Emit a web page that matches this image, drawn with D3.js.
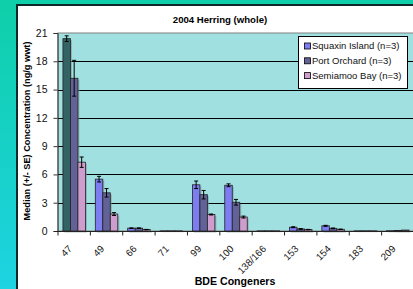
<!DOCTYPE html>
<html><head><meta charset="utf-8">
<script src="https://cdn.jsdelivr.net/npm/d3@7"></script>
<style>
html,body{margin:0;padding:0;}
body{width:413px;height:289px;overflow:hidden;background:linear-gradient(#0ecfa9,#1ed3e2);}
svg{display:block;font-family:"Liberation Sans",Arial,sans-serif;}
</style></head><body>
<svg id="c" width="413" height="289"></svg>
<script>
const categories = ["47","49","66","71","99","100","138/166","153","154","183","209"];
const seriesNames = ["Squaxin Island (n=3)","Port Orchard (n=3)","Semiamoo Bay (n=3)"];
const squaxin   = [20.4, 5.5, 0.3, 0.02, 4.9, 4.85, 0.02, 0.4, 0.55, 0.02, 0.03];
const portOrch  = [16.2, 4.05, 0.3, 0.02, 3.85, 3.05, 0.02, 0.22, 0.28, 0.02, 0.05];
const semiamoo  = [7.3, 1.8, 0.15, 0.02, 1.75, 1.48, 0.02, 0.15, 0.18, 0.02, 0.1];
const squaxinSE = [0.3, 0.3, 0.03, 0, 0.4, 0.15, 0, 0.05, 0.05, 0, 0];
const portSE    = [1.9, 0.45, 0.03, 0, 0.45, 0.3, 0, 0.04, 0.04, 0, 0];
const semiSE    = [0.55, 0.15, 0.02, 0, 0.05, 0.1, 0, 0.02, 0.02, 0, 0];
const yTicks = [0,3,6,9,12,15,18,21];
const colors = ["#7d7df2","#626299","#cf9dcd"];
const highlightColor = "#336463";

(function(){
const svg = d3.select("#c");
svg.append("rect").attr("x",17).attr("y",5).attr("width",420).attr("height",300)
  .attr("fill","#fff").attr("stroke","#0d2a2a").attr("stroke-width",2);

const pL=58, pR=414, pT=33, pB=231;
const x = d3.scaleBand().domain(categories).range([pL,pR]).padding(0);
const xs = d3.scaleBand().domain(d3.range(3)).range([0,x.bandwidth()]).paddingInner(0).paddingOuter(0.66);
const y = d3.scaleLinear().domain([0,21]).range([pB,pT]);

svg.append("rect").attr("x",pL).attr("y",pT).attr("width",pR-pL).attr("height",pB-pT)
  .attr("fill","#a1e0e0").attr("stroke","#808080").attr("stroke-width",1);

svg.append("g").selectAll("line").data(yTicks.filter(d=>d>0 && d<21)).join("line")
  .attr("x1",pL).attr("x2",pR).attr("y1",d=>Math.round(y(d))+0.5).attr("y2",d=>Math.round(y(d))+0.5)
  .attr("stroke","#000").attr("stroke-width",1);

const vals=[squaxin,portOrch,semiamoo], ses=[squaxinSE,portSE,semiSE];
const data=[];
categories.forEach((c,i)=>{for(let s=0;s<3;s++)data.push({c,s,v:vals[s][i],e:ses[s][i]});});

const g=svg.append("g");
g.selectAll("rect.sh").data(data).join("rect").attr("class","sh")
  .attr("x",d=>x(d.c)+xs(d.s)+1.5).attr("y",d=>y(d.v)+1.5)
  .attr("width",xs.bandwidth()).attr("height",d=>y(0)-y(d.v))
  .attr("fill","#7a9a9a").attr("opacity",0.6);
g.selectAll("rect.bar").data(data).join("rect").attr("class","bar")
  .attr("x",d=>x(d.c)+xs(d.s)).attr("y",d=>y(d.v))
  .attr("width",xs.bandwidth()).attr("height",d=>y(0)-y(d.v))
  .attr("fill",d=>(d.c==="47"&&d.s===0)?highlightColor:colors[d.s])
  .attr("stroke","#222").attr("stroke-width",0.8);
const eb=data.filter(d=>d.e>0);
const cx=d=>x(d.c)+xs(d.s)+xs.bandwidth()/2;
g.selectAll("line.ev").data(eb).join("line").attr("class","ev")
  .attr("x1",cx).attr("x2",cx).attr("y1",d=>y(d.v+d.e)).attr("y2",d=>y(d.v-d.e))
  .attr("stroke","#000").attr("stroke-width",1);
g.selectAll("line.et").data(eb).join("line").attr("class","et")
  .attr("x1",d=>cx(d)-2).attr("x2",d=>cx(d)+2).attr("y1",d=>y(d.v+d.e)).attr("y2",d=>y(d.v+d.e))
  .attr("stroke","#000").attr("stroke-width",1);
g.selectAll("line.eb").data(eb).join("line").attr("class","eb")
  .attr("x1",d=>cx(d)-2).attr("x2",d=>cx(d)+2).attr("y1",d=>y(d.v-d.e)).attr("y2",d=>y(d.v-d.e))
  .attr("stroke","#000").attr("stroke-width",1);

const ya=svg.append("g").attr("transform",`translate(${pL-0.5},0)`)
  .call(d3.axisLeft(y).tickValues(yTicks).tickSize(4).tickPadding(6));
ya.select(".domain").attr("stroke","#333");
ya.selectAll(".tick line").attr("stroke","#333");
ya.selectAll("text").attr("font-size",10.5).attr("fill","#111").attr("font-family","Liberation Sans, Arial");

const xa=svg.append("g").attr("transform",`translate(0,${pB+0.5})`);
xa.append("line").attr("x1",pL-4).attr("x2",pR).attr("stroke","#222");
xa.selectAll("line.t").data(categories.concat(["_end"])).join("line").attr("class","t")
  .attr("x1",(d,i)=>pL+i*x.step()).attr("x2",(d,i)=>pL+i*x.step())
  .attr("y1",0).attr("y2",4).attr("stroke","#222");
svg.append("g").selectAll("text").data(categories).join("text")
  .attr("transform",d=>`translate(${x(d)+x.bandwidth()/2-4},${pB+16}) rotate(-45)`)
  .attr("text-anchor","end").attr("dy","0.35em").attr("font-size",9.8).attr("fill","#111").text(d=>d);

svg.append("text").attr("x",220).attr("y",23).attr("text-anchor","middle")
  .attr("font-size",9.6).attr("font-weight","bold").text("2004 Herring (whole)");
svg.append("text").attr("x",235).attr("y",285).attr("text-anchor","middle")
  .attr("font-size",10.6).attr("font-weight","bold").text("BDE Congeners");
svg.append("text").attr("transform","translate(30,131) rotate(-90)").attr("text-anchor","middle")
  .attr("font-size",9.2).attr("font-weight","bold").text("Median (+/- SE) Concentration (ng/g wwt)");

const lg=svg.append("g");
lg.append("rect").attr("x",298.5).attr("y",36.5).attr("width",109).attr("height",52)
  .attr("fill","#fff").attr("stroke","#000").attr("stroke-width",1);
seriesNames.forEach((n,i)=>{
  const yy=46+i*14.8;
  lg.append("rect").attr("x",304.5).attr("y",yy-3).attr("width",6).attr("height",6)
    .attr("fill",colors[i]).attr("stroke","#000").attr("stroke-width",0.8);
  lg.append("text").attr("x",312).attr("y",yy).attr("dy","0.35em").attr("font-size",9.5).attr("fill","#111").text(n);
});
})();
</script></body></html>
